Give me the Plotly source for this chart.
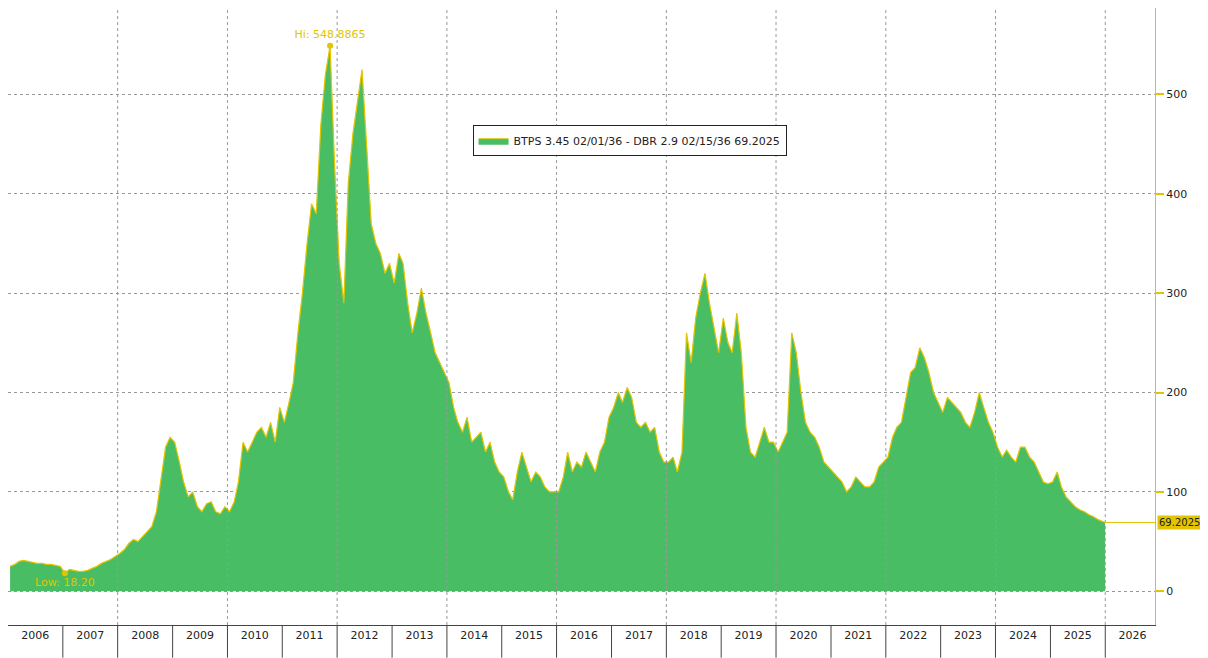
import plotly.graph_objects as go
import pandas as pd

years = list(range(2006, 2026))
monthly = [
    [25, 27, 30, 31, 30, 29, 28, 28, 27, 27, 26, 25],
    [18.2, 22, 21, 20, 20, 21, 23, 25, 28, 30, 32, 35],
    [38, 42, 48, 52, 50, 55, 60, 65, 80, 110, 145, 155],
    [150, 130, 110, 95, 100, 85, 80, 88, 90, 80, 78, 85],
    [80, 90, 110, 150, 140, 150, 160, 165, 155, 170, 150, 185],
    [170, 190, 210, 260, 300, 350, 390, 380, 470, 520, 548.8865, 430],
    [330, 290, 410, 460, 490, 525, 450, 370, 350, 340, 320, 330],
    [310, 340, 330, 290, 260, 280, 305, 280, 260, 240, 230, 220],
    [210, 185, 170, 160, 175, 150, 155, 160, 140, 150, 130, 120],
    [115, 100, 92, 120, 140, 125, 110, 120, 115, 105, 100, 100],
    [100, 115, 140, 120, 130, 125, 140, 130, 120, 140, 150, 175],
    [185, 200, 190, 205, 195, 170, 165, 170, 160, 165, 140, 130],
    [130, 135, 120, 140, 260, 230, 275, 300, 320, 290, 265, 240],
    [275, 250, 240, 280, 240, 165, 140, 135, 150, 165, 150, 150],
    [140, 150, 160, 260, 240, 200, 170, 160, 155, 145, 130, 125],
    [120, 115, 110, 100, 105, 115, 110, 105, 105, 110, 125, 130],
    [135, 155, 165, 170, 195, 220, 225, 245, 235, 220, 200, 190],
    [180, 195, 190, 185, 180, 170, 165, 180, 200, 185, 170, 160],
    [145, 135, 142, 135, 130, 145, 145, 135, 130, 120, 110, 108],
    [110, 120, 105, 95, 90, 85, 82, 80, 77, 75, 72, 69.2025],
]
series_name = "BTPS 3.45 02/01/36 - DBR 2.9 02/15/36 69.2025"
label_years = list(range(2006, 2027))

dates = []
values = []
for y, row in zip(years, monthly):
    for m, v in enumerate(row):
        dates.append(pd.Timestamp(y, m + 1, 15))
        values.append(v)
dates[-1] = pd.Timestamp(2025, 12, 31)
s = pd.Series(values, index=dates)

YEL = "#e2c400"
GRN = "#48bd63"

fig = go.Figure()
fig.add_trace(go.Scatter(x=s.index, y=s.values, mode="lines", fill="tozeroy",
                         fillcolor=GRN, line=dict(color=YEL, width=1.2),
                         name=series_name, showlegend=True))
hi, lo = s.idxmax(), s.idxmin()
fig.add_trace(go.Scatter(x=[hi, lo], y=[s[hi], s[lo]], mode="markers+text",
                         marker=dict(color=YEL, size=6),
                         text=["Hi: %.4f" % s[hi], "Low: %.2f" % s[lo]],
                         textposition=["top center", "bottom center"],
                         textfont=dict(color=YEL, size=11), showlegend=False))

shapes = []
for y in label_years[1:]:
    shapes.append(dict(type="line", xref="x", yref="paper", x0=f"{y}-01-01", x1=f"{y}-01-01",
                       y0=-0.053, y1=0, line=dict(color="#444", width=1)))
for y in range(2008, 2027, 2):
    shapes.append(dict(type="line", xref="x", yref="paper", x0=f"{y}-01-01", x1=f"{y}-01-01",
                       y0=0, y1=1, line=dict(color="#999", width=1, dash="dot")))
shapes.append(dict(type="line", xref="x", yref="y", x0=s.index[-1], x1="2026-11-28",
                   y0=s.iloc[-1], y1=s.iloc[-1], line=dict(color=YEL, width=1)))

fig.update_layout(
    width=1200, height=650, paper_bgcolor="white", plot_bgcolor="white",
    margin=dict(l=0, r=53, t=0, b=33, autoexpand=False),
    font=dict(family="DejaVu Sans", size=11, color="#222"),
    shapes=shapes,
    legend=dict(x=0.405, y=0.81, xanchor="left", yanchor="top", bgcolor="white",
                bordercolor="#222", borderwidth=1, font=dict(size=11)),
    annotations=[dict(x=1, xref="paper", y=s.iloc[-1], yref="y", xanchor="left", xshift=2,
                      text="%.4f" % s.iloc[-1], showarrow=False, bgcolor=YEL,
                      font=dict(color="#222", size=10), borderpad=1)],
)
fig.update_xaxes(range=["2006-01-01", "2026-11-28"], tickmode="array",
                 tickvals=[f"{y}-07-02" for y in label_years],
                 ticktext=[str(y) for y in label_years], ticks="",
                 showgrid=False, showline=True, linecolor="#444")
fig.update_yaxes(side="right", range=[-34, 587], tickvals=[0, 100, 200, 300, 400, 500],
                 showgrid=True, gridcolor="#999", griddash="dot", zeroline=False,
                 showline=True, linecolor=YEL, ticks="outside", tickcolor=YEL,
                 ticklen=8, tickwidth=2)
fig.write_html("out.html")
